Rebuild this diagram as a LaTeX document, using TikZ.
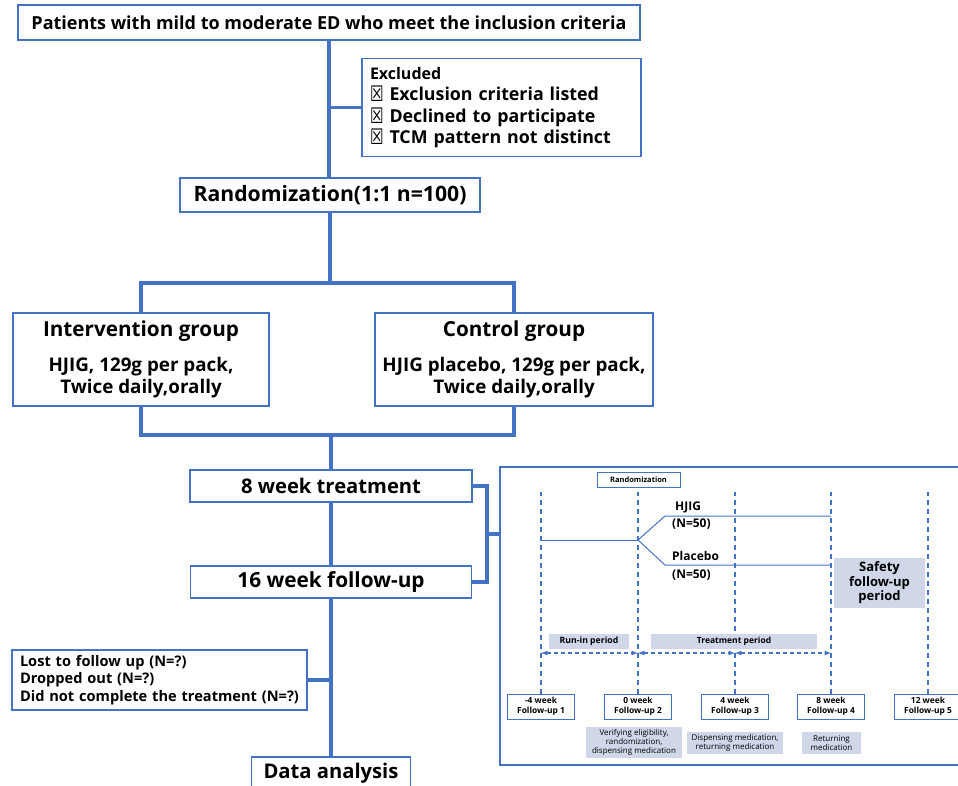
\documentclass[tikz,border=0pt]{standalone}
\usepackage{fontspec}
\setmainfont{Open Sans}
\newfontfamily\symfont{DejaVu Sans}
\usepackage{xcolor}
\usepackage{tikz}
\usetikzlibrary{positioning, calc}

\definecolor{flowblue}{HTML}{4472C4}
\definecolor{shadeblue}{HTML}{CFD7E9}

\newcommand{\fsz}[2]{\fontsize{#1}{#2}\selectfont}
\newcommand{\xbox}{\raisebox{-1pt}{\scalebox{0.85}[1.2]{\symfont\char"2612}}}

\tikzset{
  box/.style={draw=flowblue, line width=1.6pt, fill=white, inner sep=0pt, align=center},
  flow/.style={draw=flowblue, line width=3.6pt},
  tlbox/.style={draw=flowblue, line width=1pt, fill=white, inner sep=0pt, align=center,
    font=\fsz{8.4}{10}\bfseries, minimum width=67pt, minimum height=25pt},
  shade/.style={fill=shadeblue, inner sep=0pt, align=center},
  guide/.style={draw=flowblue, line width=1.2pt, dash pattern=on 5pt off 4pt},
  track/.style={draw=flowblue, line width=1pt},
}

\begin{document}
\begin{tikzpicture}[x=1pt, y=-1pt]
    \useasboundingbox (0,0) rectangle (958,785);
    \clip (0,0) rectangle (958,785);

    % Main flow boxes
    \node[box, minimum width=622pt, minimum height=35pt, font=\fsz{18}{20}\bfseries] (incl) at (329,22.5)
        {Patients with mild to moderate ED who meet the inclusion criteria};
    \node[box, minimum width=279pt, minimum height=98pt, text width=263pt, align=left,
          font=\fsz{17.8}{21.5}\bfseries] (excl) at (501.5,107.5)
        {{\fsz{16}{21.5}Excluded}\\
         \xbox\ Exclusion criteria listed\\
         \xbox\ Declined to participate\\
         \xbox\ TCM pattern not distinct};
    \node[box, minimum width=300pt, minimum height=34pt, font=\fsz{21.2}{23}\bfseries] (rand) at (330,195)
        {Randomization(1:1 n=100)};

    % Groups
    \node[box, minimum width=256pt, minimum height=93pt, font=\fsz{18.8}{22}\bfseries] (interv) at (141,359.5)
        {{\fsz{20.7}{22}Intervention group}\\[13pt]
         HJIG, 129g per pack,\\
         Twice daily,orally};
    \node[box, minimum width=278pt, minimum height=93pt, font=\fsz{18.8}{22}\bfseries] (ctrl) at (514,359.5)
        {{\fsz{20.7}{22}Control group}\\[13pt]
         HJIG placebo, 129g per pack,\\
         Twice daily,orally};

    \node[box, minimum width=282pt, minimum height=32pt, font=\fsz{20.2}{22}\bfseries] (treat) at (331,486)
        {8 week treatment};
    \node[box, minimum width=281pt, minimum height=32pt, font=\fsz{20.8}{22}\bfseries] (follow) at (331,582)
        {16 week follow-up};
    \node[box, minimum width=295pt, minimum height=60pt, text width=279pt, align=left,
          font=\fsz{14.6}{17.5}\bfseries] (drop) at (159.5,680)
        {Lost to follow up (N=?)\\
         Dropped out (N=?)\\
         Did not complete the treatment (N=?)};
    \node[box, minimum width=159pt, minimum height=32pt, font=\fsz{20.2}{22}\bfseries] (data) at (331,773)
        {Data analysis};

    % Connectors
    \coordinate (split) at (330,283);
    \coordinate (join) at (331,435);
    \draw[flow] (incl.south) -- (incl.south |- rand.north);
    \draw[flow] (excl.west) -- (excl.west -| incl.south);
    \draw[flow] (rand.south) -- (split);
    \draw[flow] (interv.north) |- (split) -| (ctrl.north);
    \draw[flow] (interv.south) |- (join) -| (ctrl.south);
    \draw[flow] (join) -- (treat.north);
    \draw[flow] (treat.south) -- (follow.north);
    \draw[flow] (follow.south) -- (data.north);
    \draw[flow] (drop.east) -- (drop.east -| follow.south);

    % Timeline panel
    \node[draw=flowblue, line width=1.6pt, minimum width=470pt, minimum height=298pt, inner sep=0pt] (panel) at (735,616) {};
    \coordinate (brk) at (487,534);
    \draw[flow] (treat.east) -| (brk) |- (follow.east);
    \draw[flow] (brk) -- (brk -| panel.west);

    \node[draw=flowblue, line width=0.8pt, minimum width=83pt, minimum height=15pt, inner sep=0pt,
          font=\fsz{7.5}{9}\bfseries] (rnd) at (638.5,479.5) {Randomization};

    % Visits
    \node[tlbox] (fu1) at (541,706.5) {-4 week\\Follow-up 1};
    \node[tlbox] (fu2) at (638,706.5) {0 week\\Follow-up 2};
    \node[tlbox] (fu3) at (735,706.5) {4 week\\Follow-up 3};
    \node[tlbox] (fu4) at (831,706.5) {8 week\\Follow-up 4};
    \node[tlbox] (fu5) at (928,706.5) {12 week\\Follow-up 5};
    \coordinate (gtop) at (0,492);
    \foreach \i in {1,...,5}
        \draw[guide] (fu\i.north) -- (fu\i.north |- gtop);

    % Arms
    \coordinate (start) at (fu1.north |- 0,540);
    \coordinate (fork) at (fu2.north |- 0,540);
    \draw[track] (start) -- (fork);
    \draw[track] (fork) -- (665,516) -- (fu4.north |- 0,516);
    \draw[track] (fork) -- (665,565) -- (fu4.north |- 0,565);
    \node[anchor=west, inner sep=0pt, font=\fsz{12}{13}\bfseries] (hjig) at (675,507) {HJIG};
    \node[anchor=west, inner sep=0pt, font=\fsz{12}{13}\bfseries] (hjign) at (672,524) {(N=50)};
    \node[anchor=west, inner sep=0pt, font=\fsz{12}{13}\bfseries] (plac) at (672,556) {Placebo};
    \node[anchor=west, inner sep=0pt, font=\fsz{12}{13}\bfseries] (placn) at (672,575) {(N=50)};
    \node[shade, minimum width=91pt, minimum height=50pt, font=\fsz{13}{14.5}\bfseries] (safety) at (879.5,583)
        {Safety\\follow-up\\period};

    % Periods
    \node[shade, minimum width=80pt, minimum height=15pt, font=\fsz{8.7}{10}\bfseries] (runin) at (589,641.5) {Run-in period};
    \node[shade, minimum width=166pt, minimum height=15pt, font=\fsz{8.5}{10}\bfseries] (trper) at (734,641.5) {Treatment period};
    \draw[guide, <->, >=latex, dash pattern=on 4pt off 3pt] (fu1.north |- 0,653) -- (fu2.north |- 0,653);
    \draw[guide, <->, >=latex, dash pattern=on 4pt off 3pt] (fu2.north |- 0,653) -- (fu3.north |- 0,653);
    \draw[guide, <->, >=latex, dash pattern=on 4pt off 3pt] (fu3.north |- 0,653) -- (fu4.north |- 0,653);

    % Visit tasks
    \node[shade, minimum width=96pt, minimum height=31pt, font=\fsz{8}{9}] (taskA) at (634,742.5)
        {Verifying eligibility,\\randomization,\\dispensing medication};
    \node[shade, minimum width=96pt, minimum height=22pt, font=\fsz{8}{9}] (taskB) at (735,743)
        {Dispensing medication,\\returning medication};
    \node[shade, minimum width=59pt, minimum height=22pt, font=\fsz{8}{9}] (taskC) at (831.5,743)
        {Returning\\medication};
\end{tikzpicture}
\end{document}
